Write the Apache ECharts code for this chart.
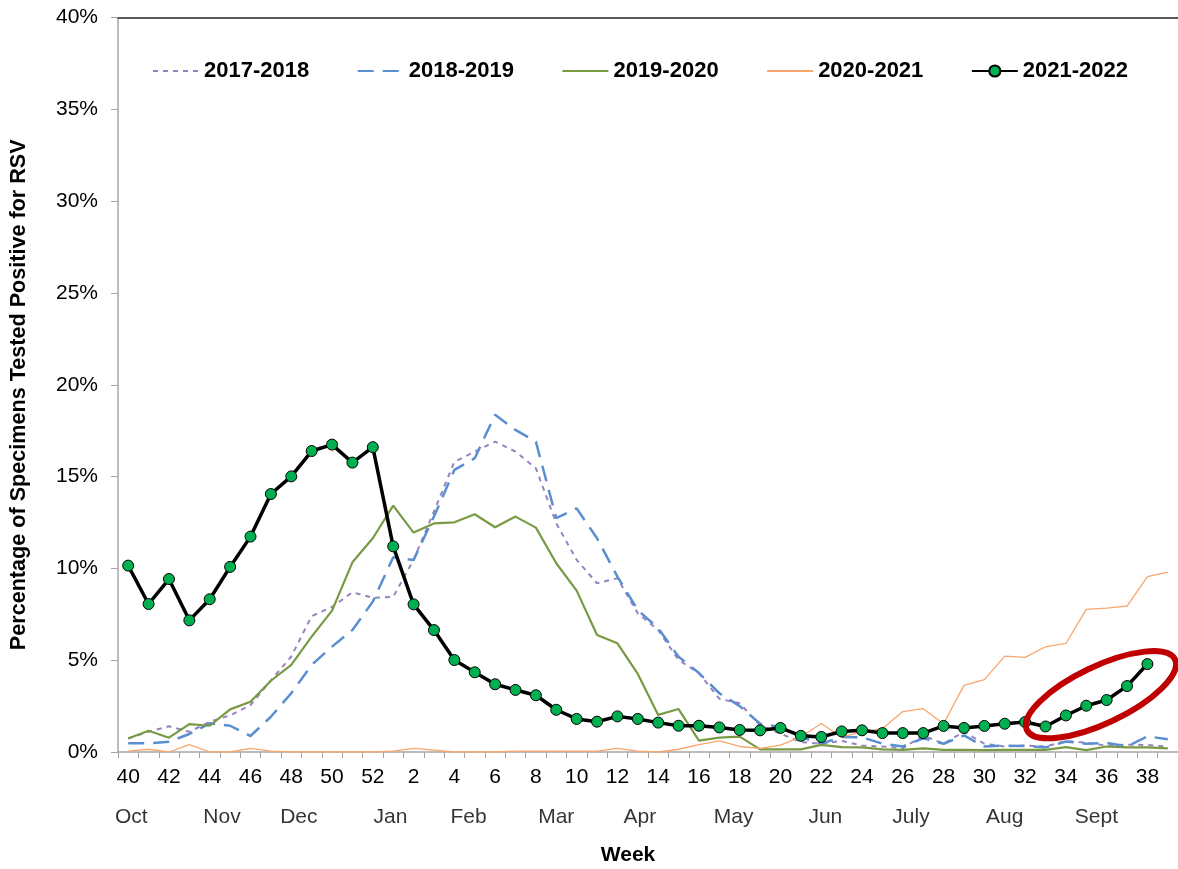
<!DOCTYPE html>
<html><head><meta charset="utf-8">
<script src="https://cdn.jsdelivr.net/npm/echarts@6/dist/echarts.min.js"></script>
<style>html,body{margin:0;padding:0;background:#fff}#c{width:1178px;height:869px}</style>
</head><body><div id="c"></div><script>
// Week categories (week 40 of one year to week 39 of the next)
const weeks = ['40','41','42','43','44','45','46','47','48','49','50','51','52',
  '1','2','3','4','5','6','7','8','9','10','11','12','13','14','15','16','17','18','19','20',
  '21','22','23','24','25','26','27','28','29','30','31','32','33','34','35','36','37','38','39'];

const s2017 = [0.74,1.1,1.4,1.1,1.65,2.0,2.56,3.9,5.2,7.4,7.9,8.7,8.4,
  8.45,10.46,13.1,15.8,16.36,16.9,16.36,15.45,12.45,10.46,9.19,9.46,7.55,6.64,5.01,4.29,2.9,2.65,1.45,1.0,
  0.54,0.45,0.6,0.36,0.3,0.2,0.9,0.45,1.1,0.45,0.3,0.35,0.3,0.6,0.5,0.35,0.4,0.38,0.3];

const s2018 = [0.47,0.47,0.56,0.98,1.56,1.43,0.87,1.92,3.2,4.74,5.74,6.64,8.19,
  10.6,10.46,12.82,15.36,16.0,18.36,17.54,16.9,12.73,13.27,11.64,9.55,7.73,6.74,5.19,4.3,3.2,2.5,1.54,1.36,
  0.82,0.45,0.82,0.8,0.45,0.3,0.75,0.45,0.9,0.3,0.35,0.33,0.25,0.57,0.45,0.5,0.3,0.85,0.7];

const s2019 = [0.74,1.16,0.78,1.52,1.43,2.32,2.74,3.88,4.74,6.28,7.7,10.33,11.64,
  13.42,11.95,12.45,12.51,12.95,12.24,12.82,12.22,10.28,8.79,6.37,5.92,4.25,2.02,2.34,0.62,0.78,0.84,0.14,0.14,
  0.14,0.39,0.27,0.25,0.14,0.12,0.2,0.12,0.12,0.1,0.12,0.12,0.12,0.27,0.1,0.3,0.25,0.25,0.2];

const s2020 = [0.05,0.15,0.0,0.4,0.0,0.0,0.2,0.05,0.0,0.0,0.0,0.0,0.0,
  0.05,0.2,0.1,0.0,0.0,0.0,0.05,0.05,0.05,0.05,0.05,0.2,0.05,0.0,0.15,0.4,0.6,0.3,0.2,0.38,
  0.82,1.55,0.82,1.09,1.27,2.2,2.36,1.54,3.63,3.94,5.22,5.15,5.73,5.91,7.77,7.84,7.95,9.55,9.8];

const s2021 = [10.15,8.06,9.42,7.17,8.32,10.08,11.73,14.05,15.01,16.39,16.74,15.76,16.6,
  11.2,8.04,6.64,5.01,4.34,3.69,3.38,3.09,2.3,1.8,1.65,1.94,1.8,1.6,1.43,1.43,1.34,1.2,1.18,1.31,
  0.88,0.82,1.12,1.18,1.03,1.03,1.03,1.42,1.31,1.42,1.54,1.63,1.39,1.99,2.52,2.83,3.59,4.79,null];

const seriesNames = ['2017-2018','2018-2019','2019-2020','2020-2021','2021-2022'];

// Month labels and their positions (in week-index units along the axis)
const monthNames = ['Oct','Nov','Dec','Jan','Feb','Mar','Apr','May','Jun','July','Aug','Sept'];
const monthPos = [0.15,4.6,8.37,12.87,16.7,21.0,25.1,29.7,34.2,38.4,43.0,47.5];

// Highlight annotation centre (week index, percent)
const highlightCenter = [47.72, 3.12];

const FONT = '"Liberation Sans", Arial, sans-serif';
const chart = echarts.init(document.getElementById('c'), null, {renderer: 'canvas'});

const option = {
  animation: false,
  grid: {left: 117.8, right: -3.2, top: 17.5, bottom: 117},
  legend: {
    data: seriesNames.map((n, i) => i < 4 ? {name: n, itemStyle: {opacity: 0}} : {name: n}),
    left: 147, top: 55,
    itemWidth: 46, itemHeight: 14, itemGap: 47.5,
    textStyle: {fontFamily: FONT, fontSize: 22, fontWeight: 'bold', color: '#000'}
  },
  xAxis: [{
    type: 'category', data: weeks, boundaryGap: true, position: 'bottom',
    axisLine: {show: true, onZero: false, lineStyle: {color: '#A6A6A6', width: 1.5}},
    axisTick: {show: true, interval: 0, length: 6, lineStyle: {color: '#A6A6A6', width: 1}},
    axisLabel: {interval: 1, margin: 15, fontFamily: FONT, fontSize: 21, color: '#000'},
    splitLine: {show: false}
  }, {
    type: 'value', min: -0.5, max: 51.5, position: 'top',
    axisLine: {show: true, onZero: false, lineStyle: {color: '#595959', width: 2}},
    axisTick: {show: false}, axisLabel: {show: false}, splitLine: {show: false}
  }],
  yAxis: {
    type: 'value', min: 0, max: 40, interval: 5,
    name: 'Percentage of Specimens Tested Positive for RSV',
    nameLocation: 'middle', nameGap: 88,
    nameTextStyle: {fontFamily: FONT, fontSize: 21.6, fontWeight: 'bold', color: '#000', padding: [0, 20, 0, 0]},
    axisLine: {show: true, onZero: false, lineStyle: {color: '#A6A6A6', width: 1.5}},
    axisTick: {show: true, length: 7, lineStyle: {color: '#A6A6A6', width: 1}},
    axisLabel: {formatter: '{value}%', margin: 20, fontFamily: FONT, fontSize: 21, color: '#000'},
    splitLine: {show: false}
  },
  series: [
    {name: seriesNames[0], type: 'line', data: s2017, symbol: 'none',
      lineStyle: {color: '#9683C0', width: 2, type: [5, 5]}, itemStyle: {color: '#9683C0'}},
    {name: seriesNames[1], type: 'line', data: s2018, symbol: 'none',
      lineStyle: {color: '#5A8ED0', width: 2.5, type: [16, 9]}, itemStyle: {color: '#5A8ED0'}},
    {name: seriesNames[2], type: 'line', data: s2019, symbol: 'none',
      lineStyle: {color: '#789A43', width: 2.2}, itemStyle: {color: '#789A43'}},
    {name: seriesNames[3], type: 'line', data: s2020, symbol: 'none',
      lineStyle: {color: '#F9A66C', width: 1.3}, itemStyle: {color: '#F9A66C'}},
    {name: seriesNames[4], type: 'line', data: s2021, symbol: 'circle', symbolSize: 11, showAllSymbol: true,
      lineStyle: {color: '#000', width: 3.5},
      itemStyle: {color: '#00B050', borderColor: '#000', borderWidth: 1}},
    {name: 'months', type: 'scatter', xAxisIndex: 1, yAxisIndex: 0, clip: false, silent: true,
      symbolSize: 1, itemStyle: {color: 'rgba(0,0,0,0)'},
      data: monthPos.map((p, i) => ({name: monthNames[i], value: [p, 0]})),
      label: {show: true, position: 'inside', offset: [0, 65], formatter: '{b}',
        fontFamily: FONT, fontSize: 21, color: '#000'}}
  ]
};
chart.setOption(option);

const c = chart.convertToPixel({xAxisIndex: 1, yAxisIndex: 0}, highlightCenter);
chart.setOption({
  graphic: [
    {type: 'ellipse', x: c[0], y: c[1], rotation: 25.4 * Math.PI / 180,
      shape: {cx: 0, cy: 0, rx: 82, ry: 28.5},
      style: {fill: 'none', stroke: '#C00000', lineWidth: 6}, z: 100},
    {type: 'text', x: 628, y: 855,
      style: {text: 'Week', align: 'center', verticalAlign: 'middle',
        font: 'bold 21px ' + FONT, fill: '#000'}}
  ]
});
</script></body></html>
